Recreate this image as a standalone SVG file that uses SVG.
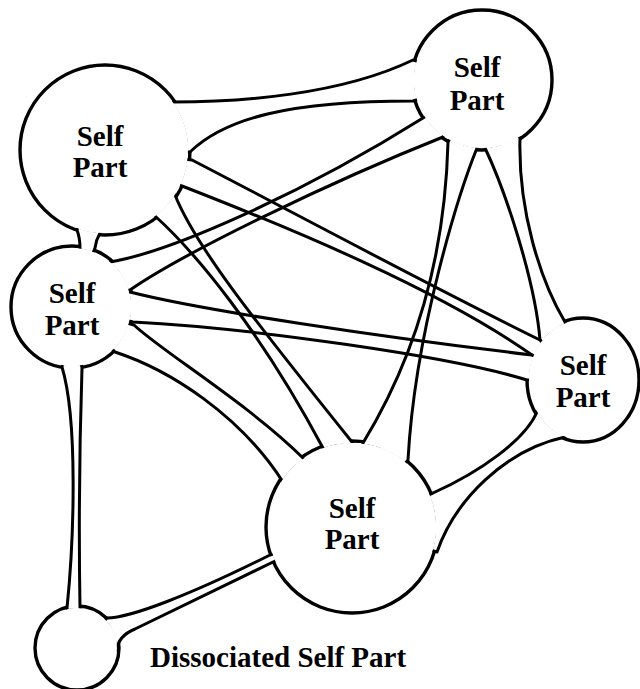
<svg xmlns="http://www.w3.org/2000/svg" width="640" height="689" viewBox="0 0 640 689">
<defs>
<style>
.ring{fill:#fff;stroke:#000;stroke-width:3.4}
.mouth{fill:#fff;stroke:none}
.edge{fill:none;stroke:#000;stroke-width:3;stroke-linejoin:round;stroke-linecap:round}
.lbl{font-family:"Liberation Serif","Times New Roman",serif;font-weight:bold;font-size:29px;text-anchor:middle;fill:#000}
</style>
<mask id="outside" maskUnits="userSpaceOnUse" x="0" y="0" width="640" height="689">
<rect width="640" height="689" fill="#fff"/>
<circle cx="105" cy="150" r="83" fill="#000"/>
<circle cx="482" cy="80" r="68" fill="#000"/>
<circle cx="72" cy="307" r="59" fill="#000"/>
<ellipse cx="583" cy="380" rx="54" ry="60" fill="#000"/>
<circle cx="352" cy="527" r="84" fill="#000"/>
<circle cx="77" cy="648" r="40" fill="#000"/>
</mask>
</defs>
<rect width="640" height="689" fill="#fff"/>
<g id="node-top-left"><circle class="ring" cx="105" cy="150" r="85"/><text class="lbl" x="100" y="146">Self</text><text class="lbl" x="100" y="177">Part</text></g>
<g id="node-top-right"><circle class="ring" cx="482" cy="80" r="70"/><text class="lbl" x="477" y="77">Self</text><text class="lbl" x="477" y="110">Part</text></g>
<g id="node-mid-left"><circle class="ring" cx="72" cy="307" r="61"/><text class="lbl" x="72" y="303">Self</text><text class="lbl" x="72" y="335">Part</text></g>
<g id="node-right"><ellipse class="ring" cx="583" cy="380" rx="56" ry="62"/><text class="lbl" x="583" y="375">Self</text><text class="lbl" x="583" y="407">Part</text></g>
<g id="node-bottom"><circle class="ring" cx="352" cy="527" r="86"/><text class="lbl" x="352" y="518">Self</text><text class="lbl" x="352" y="549">Part</text></g>
<g id="node-dissociated"><circle class="ring" cx="77" cy="648" r="42"/></g>
<g id="connectors" mask="url(#outside)">
<g class="mouth">
<path d="M105,150 L173,102 C240,102 340,95 413,60 L482,80 L413,101 C290,101 225,118 190,152 Z"/>
<path d="M105,150 L192,160 C300,216 430,286 540,340 L583,380 L532,355 C440,290 290,228 182,186 Z"/>
<path d="M105,150 L155,216 C195,252 260,330 323,448 L352,527 L352,442 C250,315 195,245 175,195 Z"/>
<path d="M105,150 L77,230 Q80,238 80,248 L72,307 L95,248 Q96,240 100,233 Z"/>
<path d="M72,307 L110,262 C170,252 300,195 423,118 L482,80 L443,137 C330,182 185,252 130,290 Z"/>
<path d="M72,307 L130,292 C200,310 380,337 532,355 L583,380 L527,380 C450,356 250,328 133,322 Z"/>
<path d="M72,307 L134,325 C160,350 250,405 303,458 L352,527 L283,482 C240,415 170,370 115,352 Z"/>
<path d="M72,307 L62,367 C78,420 74,540 67,608 L77,648 L80,608 Q78,490 82,368 Z"/>
<path d="M77,648 L107,618 C130,618 190,595 270,555 L352,527 L273,562 L135,629 Q118,636 117,650 Z"/>
<path d="M482,80 L448,142 C446,220 432,330 363,443 L352,527 L408,460 C415,330 460,190 477,148 Z"/>
<path d="M482,80 L485,148 C505,190 535,280 540,340 L583,380 L565,322 C540,280 518,210 520,138 Z"/>
<path d="M583,380 L537,412 C525,440 480,472 433,493 L352,527 L437,552 C455,500 505,450 565,437 Z"/>
</g>
<g class="edge">
<path d="M105,150 L173,102 C240,102 340,95 413,60 L482,80"/>
<path d="M105,150 L190,152 C225,118 290,101 413,101 L482,80"/>
<path d="M105,150 L192,160 C300,216 430,286 540,340 L583,380"/>
<path d="M105,150 L182,186 C290,228 440,290 532,355 L583,380"/>
<path d="M105,150 L155,216 C195,252 260,330 323,448 L352,527"/>
<path d="M105,150 L175,195 C195,245 250,315 352,442 L352,527"/>
<path d="M105,150 L77,230 Q80,238 80,248 L72,307"/>
<path d="M105,150 L100,233 Q96,240 95,248 L72,307"/>
<path d="M72,307 L110,262 C170,252 300,195 423,118 L482,80"/>
<path d="M72,307 L130,290 C185,252 330,182 443,137 L482,80"/>
<path d="M72,307 L130,292 C200,310 380,337 532,355 L583,380"/>
<path d="M72,307 L133,322 C250,328 450,356 527,380 L583,380"/>
<path d="M72,307 L134,325 C160,350 250,405 303,458 L352,527"/>
<path d="M72,307 L115,352 C170,370 240,415 283,482 L352,527"/>
<path d="M72,307 L62,367 C78,420 74,540 67,608 L77,648"/>
<path d="M72,307 L82,368 Q78,490 80,608 L77,648"/>
<path d="M77,648 L107,618 C130,618 190,595 270,555 L352,527"/>
<path d="M77,648 L117,650 Q118,636 135,629 L273,562 L352,527"/>
<path d="M482,80 L448,142 C446,220 432,330 363,443 L352,527"/>
<path d="M482,80 L477,148 C460,190 415,330 408,460 L352,527"/>
<path d="M482,80 L485,148 C505,190 535,280 540,340 L583,380"/>
<path d="M482,80 L520,138 C518,210 540,280 565,322 L583,380"/>
<path d="M583,380 L537,412 C525,440 480,472 433,493 L352,527"/>
<path d="M583,380 L565,437 C505,450 455,500 437,552 L352,527"/>
</g>
</g>
<g id="label-dissociated"><text class="lbl" x="150" y="667" style="text-anchor:start">Dissociated Self Part</text></g>
</svg>
